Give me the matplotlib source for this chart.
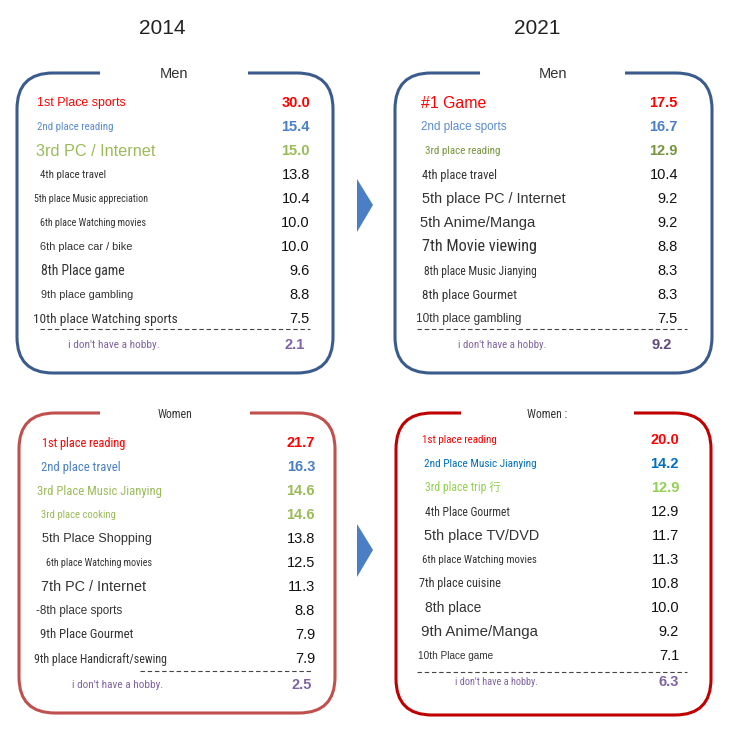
import matplotlib
matplotlib.use('Agg')
import matplotlib.pyplot as plt
from matplotlib.patches import FancyBboxPatch, Rectangle, Polygon
from matplotlib import font_manager

# ---------- DATA ----------
years = ['2014', '2021']

men_2014_labels = ['1st Place sports', '2nd place reading', '3rd PC / Internet', '4th place travel',
                   '5th place Music appreciation', '6th place Watching movies', '6th place car / bike',
                   '8th Place game', '9th place gambling', '10th place Watching sports']
men_2014_values = [30.0, 15.4, 15.0, 13.8, 10.4, 10.0, 10.0, 9.6, 8.8, 7.5]
men_2014_none = 2.1

men_2021_labels = ['#1 Game', '2nd place sports', '3rd place reading', '4th place travel',
                   '5th place PC / Internet', '5th Anime/Manga', '7th Movie viewing',
                   '8th place Music Jianying', '8th place Gourmet', '10th place gambling']
men_2021_values = [17.5, 16.7, 12.9, 10.4, 9.2, 9.2, 8.8, 8.3, 8.3, 7.5]
men_2021_none = 9.2

women_2014_labels = ['1st place reading', '2nd place travel', '3rd Place Music Jianying', '3rd place cooking',
                     '5th Place Shopping', '6th place Watching movies', '7th PC / Internet',
                     '-8th place sports', '9th Place Gourmet', '9th place Handicraft/sewing']
women_2014_values = [21.7, 16.3, 14.6, 14.6, 13.8, 12.5, 11.3, 8.8, 7.9, 7.9]
women_2014_none = 2.5

women_2021_labels = ['1st place reading', '2nd Place Music Jianying', '3rd place trip 行', '4th Place Gourmet',
                     '5th place TV/DVD', '6th place Watching movies', '7th place cuisine',
                     '8th place', '9th Anime/Manga', '10th Place game']
women_2021_values = [20.0, 14.2, 12.9, 12.9, 11.7, 11.3, 10.8, 10.0, 9.2, 7.1]
women_2021_none = 6.3

none_label = "i don't have a hobby."

# ---------- STYLE ----------
regular = 'Liberation Sans'
cjk = 'Noto Sans CJK JP'
installed = {f.name for f in font_manager.fontManager.ttflist}
narrow = regular
for cand in ['Liberation Sans Narrow', 'Arial Narrow', 'Roboto Condensed', 'Archivo Narrow',
             'PT Sans Narrow', 'Pragati Narrow', 'Encode Sans Condensed', 'Fira Sans Condensed',
             'IBM Plex Sans Condensed', 'Asap Condensed', 'Open Sans Condensed']:
    if cand in installed:
        narrow = cand
        break
# the original condensed face is narrower than anything here, so let it run a bit wider
narrow_boost = 1.3

# per row: (x start, target width px, condensed)
men_2014_style = [(37, 89, 0), (37, 59, 1), (36, 120, 0), (40, 51, 1), (34, 88, 1), (40, 82, 1),
                  (40, 93, 0), (41, 65, 1), (41, 92, 0), (33, 111, 1)]
men_2021_style = [(421, 65, 0), (421, 86, 0), (425, 58, 1), (422, 58, 1), (422, 144, 0), (420, 115, 0),
                  (422, 89, 1), (424, 87, 1), (422, 73, 1), (416, 106, 0)]
women_2014_style = [(42, 64, 1), (41, 61, 1), (37, 96, 1), (41, 58, 1), (42, 110, 0), (46, 82, 1),
                    (41, 105, 0), (36, 87, 0), (40, 72, 1), (34, 102, 1)]
women_2021_style = [(422, 58, 1), (424, 87, 1), (425, 58, 1), (425, 66, 1), (424, 115, 0), (422, 88, 1),
                    (419, 63, 1), (425, 56, 0), (421, 117, 0), (418, 75, 0)]

dark = '#333333'
purple = '#8064a2'

panels = [
    dict(labels=men_2014_labels, values=men_2014_values, none=men_2014_none, style=men_2014_style,
         box=(17, 73, 333, 373), gap=(100, 248), edge='#3b5b8c', title='Men', tsize=10.5, tnarrow=False,
         first=103, step=24.0, vx=310, nx=68, nw=71, nvx=305, dash=(40, 310, 329),
         colors=['#ff0000', '#5b8bd0', '#9bbb59'], vcolors=['#ff0000', '#4a7fc6', '#9bbb59'],
         nvcolor=purple, ncount=3),
    dict(labels=men_2021_labels, values=men_2021_values, none=men_2021_none, style=men_2021_style,
         box=(395, 73, 712, 373), gap=(480, 625), edge='#3b5b8c', title='Men', tsize=10.5, tnarrow=False,
         first=103, step=24.0, vx=678, nx=458, nw=68, nvx=672, dash=(417, 687, 329),
         colors=['#ff0000', '#5b8bd0', '#77933c'], vcolors=['#ff0000', '#4a7fc6', '#77933c'],
         nvcolor='#5f497a', ncount=3),
    dict(labels=women_2014_labels, values=women_2014_values, none=women_2014_none, style=women_2014_style,
         box=(19, 413, 335, 713), gap=(100, 250), edge='#c0504d', title='Women', tsize=8.5, tnarrow=True,
         first=443, step=24.0, vx=315, nx=72, nw=70, nvx=312, dash=(140, 312, 671),
         colors=['#ff0000', '#4a7fc6', '#9bbb59', '#9bbb59'], vcolors=['#ff0000', '#4a7fc6', '#9bbb59', '#9bbb59'],
         nvcolor=purple, ncount=4),
    dict(labels=women_2021_labels, values=women_2021_values, none=women_2021_none, style=women_2021_style,
         box=(396, 413, 711, 715), gap=(461, 634), edge='#c00000', title='Women :', tsize=8.5, tnarrow=True,
         first=440, step=24.0, vx=679, nx=455, nw=64, nvx=679, dash=(417, 687, 672),
         colors=['#ff0000', '#0070c0', '#92d050'], vcolors=['#ff0000', '#0070c0', '#92d050'],
         nvcolor=purple, ncount=3),
]

# ---------- PLOT ----------
fig = plt.figure(figsize=(7.3, 7.36), dpi=100)
ax = fig.add_axes([0, 0, 1, 1])
ax.set_xlim(0, 730)
ax.set_ylim(736, 0)
ax.axis('off')
renderer = fig.canvas.get_renderer()


def fit_text(x, y, s, width, cond, color, base=9):
    # draw text, then rescale the font so it spans roughly the same width as the original
    fam = [narrow, cjk] if cond else [regular, cjk]
    t = ax.text(x, y, s, ha='left', va='center', fontsize=base, family=fam, color=color)
    w = t.get_window_extent(renderer).width
    t.set_fontsize(base * width / w * (narrow_boost if cond else 1.0))
    return t


ax.text(162, 29, years[0], ha='center', va='center', fontsize=15, family=regular, color='#222222')
ax.text(537, 29, years[1], ha='center', va='center', fontsize=15, family=regular, color='#222222')

for p in panels:
    x0, y0, x1, y1 = p['box']
    box = FancyBboxPatch((x0, y0), x1 - x0, y1 - y0,
                         boxstyle='round,pad=0,rounding_size=36',
                         fc='white', ec=p['edge'], lw=2.2)
    ax.add_patch(box)
    # opening in top edge for title
    ax.add_patch(Rectangle((p['gap'][0], y0 - 4), p['gap'][1] - p['gap'][0], 8, fc='white', ec='none', zorder=3))
    ax.text((p['gap'][0] + p['gap'][1]) / 2, y0 + 1, p['title'], ha='center', va='center',
            fontsize=p['tsize'], family=narrow if p['tnarrow'] else regular, color='#333333', zorder=4)

    n = p['ncount']
    for i, (lab, val) in enumerate(zip(p['labels'], p['values'])):
        y = p['first'] + i * p['step']
        lx, lw, cond = p['style'][i]
        col = p['colors'][i] if i < n else dark
        fit_text(lx, y, lab, lw, cond, col)
        if i < n:
            ax.text(p['vx'], y, f'{val:.1f}', ha='right', va='center', fontsize=10.5,
                    family=regular, weight='bold', color=p['vcolors'][i])
        else:
            ax.text(p['vx'], y, f'{val:.1f}', ha='right', va='center', fontsize=10.5,
                    family=regular, color='#111111')

    xa, xb, yd = p['dash']
    ax.plot([xa, xb], [yd, yd], color='#444444', lw=0.8, ls=(0, (4, 2.5)))
    yn = p['first'] + 10 * p['step'] + 2
    fit_text(p['nx'], yn, none_label, p['nw'], 1, purple)
    ax.text(p['nvx'], yn, f"{p['none']:.1f}", ha='right', va='center', fontsize=10.5,
            family=regular, weight='bold', color=p['nvcolor'])

# arrows between years
for yc in (205, 550):
    ax.add_patch(Polygon([(357, yc - 26), (373, yc), (357, yc + 27)], closed=True, fc='#4a7fc6', ec='none'))

fig.savefig('out.png', dpi=100)
